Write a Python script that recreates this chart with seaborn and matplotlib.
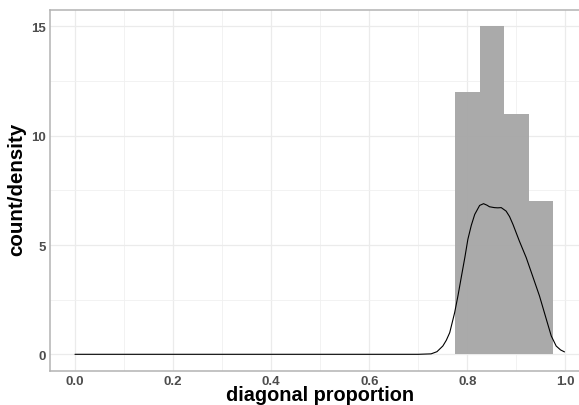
import matplotlib
matplotlib.use("Agg")
import matplotlib.pyplot as plt
from matplotlib.ticker import MultipleLocator
import seaborn as sns

# histogram: bins of width 0.05
bin_edges = [0.775, 0.825, 0.875, 0.925, 0.975]
bin_centers = [0.80, 0.85, 0.90, 0.95]
counts = [12, 15, 11, 7]

# density curve
dens_x = [0.0, 0.2, 0.4, 0.6, 0.70, 0.726, 0.738, 0.750, 0.757, 0.764, 0.774, 0.781, 0.788,
          0.795, 0.801, 0.808, 0.815, 0.825, 0.833, 0.840, 0.845, 0.855, 0.862, 0.869,
          0.879, 0.886, 0.893, 0.906, 0.920, 0.933, 0.947, 0.961, 0.971, 0.981, 0.990, 0.998]
dens_y = [0.0, 0.0, 0.0, 0.0, 0.0, 0.02, 0.12, 0.38, 0.64, 0.99, 1.90, 2.70, 3.58,
          4.45, 5.26, 5.90, 6.40, 6.81, 6.89, 6.82, 6.75, 6.71, 6.70, 6.71,
          6.55, 6.30, 5.94, 5.18, 4.42, 3.58, 2.67, 1.60, 0.84, 0.38, 0.20, 0.11]

sns.set_theme(style="whitegrid")
plt.rcParams["font.family"] = ["Liberation Sans", "DejaVu Sans"]

fig = plt.figure(figsize=(5.79, 4.06), dpi=100)
W, H = 579, 406
left, right, top, bottom = 50.45, 590.0, 11.0, 371.7
ax = fig.add_axes([left / W, (H - bottom) / H, (right - left) / W, (bottom - top) / H])

sns.histplot(x=bin_centers, weights=counts, bins=bin_edges, color="#a6a6a6",
             alpha=0.95, edgecolor="none", linewidth=0, ax=ax, zorder=2)
sns.lineplot(x=dens_x, y=dens_y, color="black", linewidth=0.8, ax=ax, zorder=3)

ax.set_xlim(-0.05, 1.05)
ax.set_ylim(-0.75, 15.75)
ax.xaxis.set_major_locator(MultipleLocator(0.2))
ax.xaxis.set_minor_locator(MultipleLocator(0.1))
ax.yaxis.set_major_locator(MultipleLocator(5))
ax.yaxis.set_minor_locator(MultipleLocator(2.5))
ax.set_xticks([0.0, 0.2, 0.4, 0.6, 0.8, 1.0])
ax.set_xticklabels(["0.0", "0.2", "0.4", "0.6", "0.8", "1.0"])
ax.set_yticks([0, 5, 10, 15])
ax.set_yticklabels(["0", "5", "10", "15"])

ax.grid(which="major", color="#ebebeb", linewidth=0.9)
ax.grid(which="minor", color="#f0f0f0", linewidth=0.6)
ax.set_axisbelow(True)
ax.set_facecolor("white")
for s in ax.spines.values():
    s.set_color("#b3b3b3")
    s.set_linewidth(1.1)

ax.tick_params(which="major", length=2.2, width=0.8, color="#b3b3b3",
               labelsize=9.5, labelcolor="#4d4d4d")
ax.tick_params(axis="x", which="major", pad=1.0)
ax.tick_params(axis="y", which="major", pad=0.8)
ax.tick_params(which="minor", length=0)
for lab in ax.get_xticklabels() + ax.get_yticklabels():
    lab.set_fontweight("bold")

ax.set_xlabel("")
ax.set_ylabel("")
fig.text(320 / W, (H - 401.3) / H, "diagonal proportion", ha="center", va="baseline",
         fontsize=14.3, fontweight="bold", color="black")
fig.text(16.7 / W, (H - 189) / H, "count/density", ha="center", va="center",
         rotation=90, fontsize=14.8, fontweight="bold", color="black")

fig.savefig("out.png", dpi=100)
